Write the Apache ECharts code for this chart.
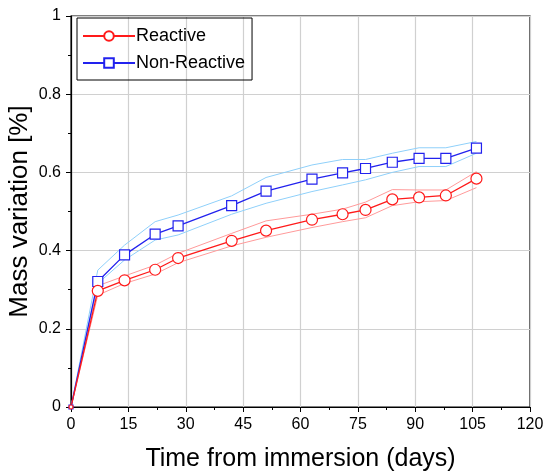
<!DOCTYPE html>
<html>
<head>
<meta charset="utf-8">
<script src="https://cdn.jsdelivr.net/npm/echarts@6/dist/echarts.min.js"></script>
<style>
  html, body { margin: 0; padding: 0; background: #fff; }
  #chart { width: 544px; height: 475px; }
</style>
</head>
<body>
<div id="chart"></div>
<script>
const days = [0, 7, 14, 22, 28, 42, 51, 63, 71, 77, 84, 91, 98, 106];
const reactive = [0, 0.297, 0.324, 0.351, 0.381, 0.425, 0.451, 0.479, 0.493, 0.504, 0.531, 0.536, 0.541, 0.584];
const reactiveHi = [0, 0.31, 0.335, 0.363, 0.393, 0.444, 0.476, 0.493, 0.506, 0.524, 0.556, 0.555, 0.555, 0.602];
const reactiveLo = [0, 0.286, 0.316, 0.340, 0.369, 0.412, 0.434, 0.459, 0.474, 0.484, 0.515, 0.525, 0.528, 0.561];
const nonReactive = [0, 0.321, 0.389, 0.442, 0.463, 0.515, 0.552, 0.583, 0.599, 0.610, 0.626, 0.636, 0.636, 0.662];
const nonReactiveHi = [0, 0.350, 0.414, 0.474, 0.491, 0.540, 0.587, 0.619, 0.633, 0.633, 0.649, 0.663, 0.663, 0.679];
const nonReactiveLo = [0, 0.316, 0.376, 0.427, 0.440, 0.493, 0.521, 0.551, 0.568, 0.581, 0.600, 0.615, 0.615, 0.649];

const font = 'Liberation Sans, Arial, sans-serif';
const pairs = (ys) => days.map((d, i) => [d, ys[i]]);

const chart = echarts.init(document.getElementById('chart'), null, { renderer: 'canvas' });

const band = (name, ys, color) => ({
  name: name,
  type: 'line',
  data: pairs(ys),
  symbol: 'none',
  lineStyle: { color: color, width: 1 },
  silent: true,
  z: 1
});

// the origin marker is mostly hidden behind the axes in the original
const main = (name, ys, color, symbol, size) => ({
  name: name,
  type: 'line',
  data: pairs(ys),
  symbol: symbol,
  symbolSize: (v) => (v[0] === 0 ? 4 : size),
  showAllSymbol: true,
  itemStyle: { color: '#fff', borderColor: color, borderWidth: 1.2 },
  lineStyle: { color: color, width: 1.3 },
  z: 3
});

chart.setOption({
  animation: false,
  textStyle: { fontFamily: font },
  grid: {
    left: 71, right: 14, top: 16, bottom: 68,
    outerBoundsMode: 'none',
    containLabel: false,
    show: true, borderColor: '#000', borderWidth: 1.2, backgroundColor: 'transparent'
  },
  legend: {
    data: ['Reactive', 'Non-Reactive'],
    orient: 'vertical',
    left: 77, top: 18,
    padding: [9, 7, 8, 5],
    itemGap: 9,
    itemWidth: 52,
    itemHeight: 12,
    borderColor: '#000',
    borderWidth: 1,
    textStyle: { fontSize: 18, color: '#000', fontFamily: font, padding: [0, 0, 0, -4] }
  },
  xAxis: {
    type: 'value',
    min: 0, max: 120, interval: 15,
    name: 'Time from immersion (days)',
    nameLocation: 'middle',
    nameGap: 40,
    nameMoveOverlap: false,
    nameTextStyle: { fontSize: 25, color: '#000', fontFamily: font },
    axisLine: { lineStyle: { color: '#000', width: 1.2 } },
    axisTick: { show: true, length: 5, lineStyle: { color: '#000' } },
    minorTick: { show: true, splitNumber: 2, length: 3, lineStyle: { color: '#000' } },
    axisLabel: { fontSize: 16, color: '#000', margin: 10, fontFamily: font },
    splitLine: { show: true, lineStyle: { color: '#d0d0d0', width: 1.2 } }
  },
  yAxis: {
    type: 'value',
    min: 0, max: 1, interval: 0.2,
    name: 'Mass variation [%]',
    nameLocation: 'middle',
    nameGap: 38,
    nameMoveOverlap: false,
    nameTextStyle: { fontSize: 26, color: '#000', fontFamily: font },
    axisLine: { show: true, lineStyle: { color: '#000', width: 1.2 } },
    axisTick: { show: true, length: 5, lineStyle: { color: '#000' } },
    minorTick: { show: true, splitNumber: 2, length: 3, lineStyle: { color: '#000' } },
    axisLabel: { fontSize: 16, color: '#000', margin: 10, fontFamily: font },
    splitLine: { show: true, lineStyle: { color: '#d0d0d0', width: 1.2 } }
  },
  series: [
    band('Reactive upper', reactiveHi, '#ff9a9a'),
    band('Reactive lower', reactiveLo, '#ff9a9a'),
    band('Non-Reactive upper', nonReactiveHi, '#8fd0fa'),
    band('Non-Reactive lower', nonReactiveLo, '#8fd0fa'),
    main('Non-Reactive', nonReactive, '#2222ee', 'rect', 10),
    main('Reactive', reactive, '#ff1a1a', 'circle', 11)
  ]
});
</script>
</body>
</html>
